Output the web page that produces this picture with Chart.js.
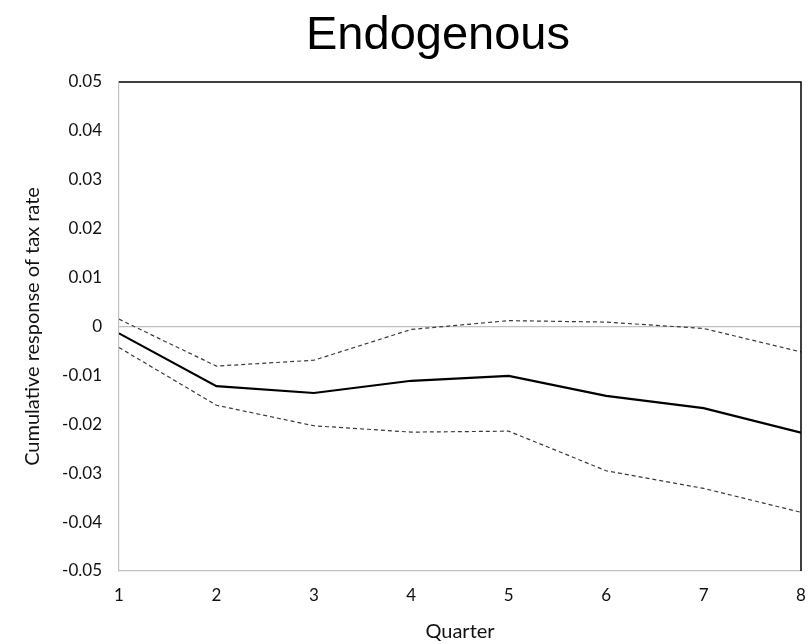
<!DOCTYPE html>
<html>
<head>
  <meta charset="utf-8">
  <title>Endogenous</title>
  <script src="https://cdn.jsdelivr.net/npm/chart.js"></script>
  <style>
    html, body { margin: 0; padding: 0; background: #fff; }
    #wrap { width: 811px; height: 644px; }
  </style>
</head>
<body>
  <div id="wrap"><canvas id="c" width="811" height="644"></canvas></div>

  <script>
    const quarters = [1, 2, 3, 4, 5, 6, 7, 8];
    const response = [-0.0014, -0.0122, -0.0136, -0.0111, -0.0101, -0.0142, -0.0167, -0.0217];
    const upperBand = [0.0015, -0.0081, -0.0069, -0.0006, 0.0012, 0.0009, -0.0004, -0.0052];
    const lowerBand = [-0.0043, -0.0161, -0.0203, -0.0216, -0.0214, -0.0295, -0.0331, -0.038];
    const yTicks = [0.05, 0.04, 0.03, 0.02, 0.01, 0, -0.01, -0.02, -0.03, -0.04, -0.05];

    const pts = arr => quarters.map((q, i) => ({ x: q, y: arr[i] }));
    const tickFont = { family: 'Lato, "Open Sans", sans-serif', size: 17 };
    const labelFont = { family: 'Lato, "Open Sans", sans-serif', size: 20 };

    // title drawn by hand, plus black top/right frame lines
    const extras = {
      id: 'extras',
      afterDraw(chart) {
        const { ctx, chartArea: a } = chart;
        ctx.save();
        ctx.strokeStyle = '#000';
        ctx.lineWidth = 1.5;
        ctx.beginPath();
        ctx.moveTo(a.left, a.top);
        ctx.lineTo(a.right, a.top);
        ctx.lineTo(a.right, a.bottom);
        ctx.stroke();
        ctx.fillStyle = '#000';
        ctx.font = '47px "Liberation Sans", Arial, sans-serif';
        ctx.textAlign = 'center';
        ctx.textBaseline = 'alphabetic';
        ctx.fillText('Endogenous', 438, 49);
        ctx.restore();
      }
    };

    new Chart(document.getElementById('c'), {
      type: 'line',
      data: {
        datasets: [
          {
            label: 'Upper',
            data: pts(upperBand),
            borderColor: '#3a3a3a',
            borderWidth: 1.2,
            borderDash: [4, 3],
            pointRadius: 0,
            tension: 0
          },
          {
            label: 'Response',
            data: pts(response),
            borderColor: '#000',
            borderWidth: 2.2,
            pointRadius: 0,
            tension: 0
          },
          {
            label: 'Lower',
            data: pts(lowerBand),
            borderColor: '#3a3a3a',
            borderWidth: 1.2,
            borderDash: [4, 3],
            pointRadius: 0,
            tension: 0
          }
        ]
      },
      options: {
        responsive: false,
        animation: false,
        layout: { padding: { top: 82, right: 0, left: 0, bottom: 0 } },
        plugins: { legend: { display: false }, tooltip: { enabled: false }, title: { display: false } },
        scales: {
          x: {
            type: 'linear',
            min: 1,
            max: 8,
            afterFit: s => { s.height = 73; s.paddingRight = 10; },
            grid: { display: false, drawTicks: false },
            border: { display: true, color: '#c0c0c0', width: 1.2 },
            ticks: { stepSize: 1, padding: 14, color: '#111', font: tickFont },
            title: {
              display: true,
              text: 'Quarter',
              color: '#111',
              font: labelFont,
              padding: { top: 0, bottom: 0 }
            }
          },
          y: {
            min: -0.05,
            max: 0.05,
            afterFit: s => { s.width = 119; },
            afterBuildTicks: s => { s.ticks = yTicks.map(v => ({ value: v })); },
            grid: {
              drawTicks: false,
              color: c => (c.tick && c.tick.value === 0 ? '#c0c0c0' : 'rgba(0,0,0,0)'),
              lineWidth: 1.2
            },
            border: { display: true, color: '#c0c0c0', width: 1.2 },
            ticks: {
              padding: 17,
              color: '#111',
              font: tickFont,
              callback: v => (v === 0 ? '0' : v.toFixed(2))
            },
            title: {
              display: true,
              text: 'Cumulative response of tax rate',
              color: '#111',
              font: labelFont,
              padding: { top: 21, bottom: 0 }
            }
          }
        }
      },
      plugins: [extras]
    });
  </script>
</body>
</html>
